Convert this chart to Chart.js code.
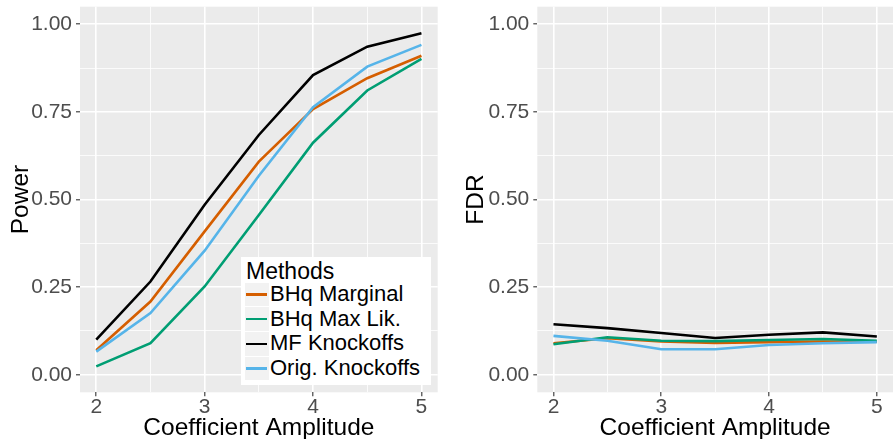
<!DOCTYPE html>
<html>
<head>
<meta charset="utf-8">
<script src="https://cdn.jsdelivr.net/npm/chart.js@4.4.1/dist/chart.umd.min.js"></script>
<style>
  html, body { margin: 0; padding: 0; background: #ffffff; }
  #wrap { position: relative; width: 893px; height: 439px; overflow: hidden;
          font-family: "Liberation Sans", Arial, Helvetica, sans-serif; }
  canvas { position: absolute; top: 0; }
  #powerChart { left: 0; }
  #fdrChart { left: 446px; }
  #legend { position: absolute; left: 241px; top: 257px; width: 190px; height: 128px;
            background: #ffffff; box-sizing: border-box; padding: 0 0 0 4px; }
  #legend .ttl { font-size: 23px; line-height: 23px; color: #000; margin: 3px 0 0 1px; height: 22px; }
  #legend .row { position: relative; height: 24.7px; }
  #legend .key { position: absolute; left: 0; top: 0.5px; width: 24px; height: 23.7px; background: #f2f2f2; }
  #legend .key i { position: absolute; left: 1px; right: 2px; top: 10.8px; height: 2.4px; }
  #legend .lab { position: absolute; left: 25px; top: 0; font-size: 22px; line-height: 24.7px; color: #000; white-space: nowrap; }
</style>
</head>
<body>
<div id="wrap">
  <canvas id="powerChart" width="446" height="439"></canvas>
  <canvas id="fdrChart" width="447" height="439"></canvas>
  <div id="legend"></div>
</div>
<script>
// Signal amplitude grid
const amplitude = [2, 2.5, 3, 3.5, 4, 4.5, 5];

// Method names and colours
const methods = ["BHq Marginal", "BHq Max Lik.", "MF Knockoffs", "Orig. Knockoffs"];
const methodColors = ["#D55E00", "#009E73", "#000000", "#56B4E9"];

// Power by method
const powerMarginal = [0.070, 0.209, 0.409, 0.608, 0.758, 0.846, 0.910];
const powerMaxLik   = [0.024, 0.090, 0.252, 0.456, 0.662, 0.811, 0.901];
const powerMF       = [0.100, 0.266, 0.485, 0.684, 0.855, 0.936, 0.974];
const powerOrig     = [0.066, 0.176, 0.354, 0.568, 0.763, 0.879, 0.941];

// FDR by method
const fdrMarginal = [0.090, 0.104, 0.095, 0.091, 0.093, 0.095, 0.094];
const fdrMaxLik   = [0.087, 0.107, 0.097, 0.096, 0.099, 0.102, 0.097];
const fdrMF       = [0.144, 0.133, 0.119, 0.105, 0.114, 0.121, 0.109];
const fdrOrig     = [0.111, 0.097, 0.073, 0.073, 0.085, 0.090, 0.093];

// Axis ticks (major labelled, minor unlabelled)
const xTicks = [2, 2.5, 3, 3.5, 4, 4.5, 5];
const yTicks = [0, 0.125, 0.25, 0.375, 0.5, 0.625, 0.75, 0.875, 1];

const FONT = "'Liberation Sans', Arial, Helvetica, sans-serif";

function isMajorX(v) { return Math.abs(v - Math.round(v)) < 1e-9; }
function isMajorY(v) { return Math.abs(v * 4 - Math.round(v * 4)) < 1e-9; }

// grey panel behind the grid
const panelBg = {
  id: 'panelBg',
  beforeDraw(chart) {
    const a = chart.chartArea, ctx = chart.ctx;
    ctx.save();
    ctx.fillStyle = '#EBEBEB';
    ctx.fillRect(a.left, a.top, a.right - a.left, a.bottom - a.top);
    ctx.restore();
  }
};

function series(values) {
  return values.map((v, i) => ({ x: amplitude[i], y: v }));
}

function makeDatasets(seriesList) {
  return seriesList.map((vals, i) => ({
    label: methods[i],
    data: series(vals),
    borderColor: methodColors[i],
    backgroundColor: methodColors[i],
    borderWidth: 2.6,
    pointRadius: 0,
    tension: 0,
    fill: false,
    order: seriesList.length - 1 - i
  }));
}

function makeChart(canvasId, title, seriesList, yAxisWidth, padRight, yTitlePad) {
  return new Chart(document.getElementById(canvasId), {
    type: 'line',
    data: { datasets: makeDatasets(seriesList) },
    plugins: [panelBg],
    options: {
      responsive: false,
      animation: false,
      events: [],
      layout: { padding: { top: 6.7, right: padRight, left: 0, bottom: 0 } },
      plugins: { legend: { display: false }, tooltip: { enabled: false } },
      scales: {
        x: {
          type: 'linear',
          min: 1.85, max: 5.15,
          afterBuildTicks(s) { s.ticks = xTicks.map(v => ({ value: v })); },
          afterFit(s) { s.height = 46.7; s.paddingLeft = 0; s.paddingRight = 0; },
          border: { display: false },
          grid: {
            color: '#FFFFFF',
            lineWidth: c => isMajorX(c.tick.value) ? 1.6 : 0.8,
            tickColor: c => isMajorX(c.tick.value) ? '#333333' : 'rgba(0,0,0,0)',
            tickWidth: 1.1,
            tickLength: 4,
            drawTicks: true
          },
          ticks: {
            autoSkip: false,
            maxRotation: 0,
            padding: -2,
            color: '#4D4D4D',
            font: { family: FONT, size: 21 },
            callback: v => isMajorX(v) ? String(v) : ''
          },
          title: {
            display: true,
            text: 'Coefficient Amplitude',
            color: '#000000',
            font: { family: FONT, size: 24.5, lineHeight: 0.9 },
            padding: 0
          }
        },
        y: {
          type: 'linear',
          min: -0.05, max: 1.05,
          afterBuildTicks(s) { s.ticks = yTicks.map(v => ({ value: v })); },
          afterFit(s) { s.width = yAxisWidth; s.paddingTop = 0; s.paddingBottom = 0; },
          border: { display: false },
          grid: {
            color: '#FFFFFF',
            lineWidth: c => isMajorY(c.tick.value) ? 1.6 : 0.8,
            tickColor: c => isMajorY(c.tick.value) ? '#333333' : 'rgba(0,0,0,0)',
            tickWidth: 1.1,
            tickLength: 4,
            drawTicks: true
          },
          ticks: {
            autoSkip: false,
            padding: 4,
            color: '#4D4D4D',
            font: { family: FONT, size: 21 },
            callback: v => isMajorY(v) ? v.toFixed(2) : ''
          },
          title: {
            display: true,
            text: title,
            color: '#000000',
            font: { family: FONT, size: 24.5, lineHeight: 0.9 },
            padding: { top: yTitlePad, bottom: 0 }
          }
        }
      }
    }
  });
}

const powerChart = makeChart('powerChart', 'Power',
  [powerMarginal, powerMaxLik, powerMF, powerOrig], 80, 8.3, 10);
const fdrChart = makeChart('fdrChart', 'FDR',
  [fdrMarginal, fdrMaxLik, fdrMF, fdrOrig], 91.3, 0, 19);

// legend built from the power chart's datasets
const legendEl = document.getElementById('legend');
const ttl = document.createElement('div');
ttl.className = 'ttl';
ttl.textContent = 'Methods';
legendEl.appendChild(ttl);
powerChart.data.datasets.forEach(ds => {
  const row = document.createElement('div');
  row.className = 'row';
  const key = document.createElement('div');
  key.className = 'key';
  const seg = document.createElement('i');
  seg.style.background = ds.borderColor;
  key.appendChild(seg);
  const lab = document.createElement('div');
  lab.className = 'lab';
  lab.textContent = ds.label;
  row.appendChild(key);
  row.appendChild(lab);
  legendEl.appendChild(row);
});
</script>
</body>
</html>
